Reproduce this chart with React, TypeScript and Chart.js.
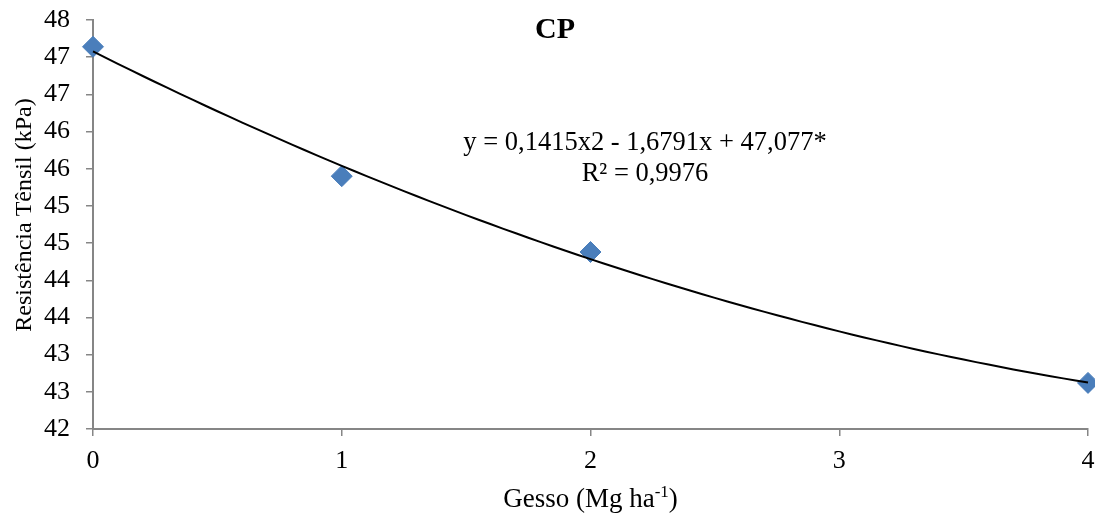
import React, { useEffect, useRef } from "react";
import { Chart, registerables } from "chart.js";

Chart.register(...registerables);

// Gypsum doses (Mg ha-1) and measured tensile strength (kPa)
const doses = [0, 1, 2, 4];
const resistencia = [47.14, 45.4, 44.38, 42.62];

// Quadratic trend: y = a·x² + b·x + c
const trendCoefs = { a: 0.1415, b: -1.6791, c: 47.077 };
const equationText = "y = 0,1415x2 - 1,6791x + 47,077*";
const r2Text = "R² = 0,9976";

const chartTitle = "CP";
const yTitle = "Resistência Tênsil (kPa)";
const xTitleMain = "Gesso (Mg ha";
const xTitleSup = "-1";
const xTitleEnd = ")";

const yMin = 42;
const yMax = 47.5;
const yStep = 0.5;
const xMin = 0;
const xMax = 4;
const xStep = 1;

const SERIF = "'Liberation Serif', 'Times New Roman', serif";
const AXIS_COLOR = "#868686";
const MARKER_COLOR = "#4A7EBB";

function trendPoints() {
  const pts: { x: number; y: number }[] = [];
  const n = 80;
  for (let i = 0; i <= n; i++) {
    const x = xMin + ((xMax - xMin) * i) / n;
    pts.push({ x, y: trendCoefs.a * x * x + trendCoefs.b * x + trendCoefs.c });
  }
  return pts;
}

const textOverlay = {
  id: "textOverlay",
  afterDraw(chart: any) {
    const { ctx, chartArea } = chart;
    ctx.save();
    ctx.fillStyle = "#000";
    ctx.textAlign = "center";
    ctx.textBaseline = "alphabetic";

    // Chart title
    ctx.font = `bold 30px ${SERIF}`;
    ctx.fillText(chartTitle, 555, 38);

    // Regression equation and R²
    ctx.font = `26.5px ${SERIF}`;
    ctx.fillText(equationText, 645, 150);
    ctx.fillText(r2Text, 645, 181);

    // Y axis title (rotated)
    ctx.save();
    ctx.translate(31, 215);
    ctx.rotate(-Math.PI / 2);
    ctx.textBaseline = "alphabetic";
    ctx.font = `24px ${SERIF}`;
    ctx.fillText(yTitle, 0, 0);
    ctx.restore();

    // X axis title with superscript
    const mainFont = `27px ${SERIF}`;
    const supFont = `17px ${SERIF}`;
    ctx.font = mainFont;
    const wMain = ctx.measureText(xTitleMain).width;
    const wEnd = ctx.measureText(xTitleEnd).width;
    ctx.font = supFont;
    const wSup = ctx.measureText(xTitleSup).width;
    const total = wMain + wSup + wEnd;
    const cx = (chartArea.left + chartArea.right) / 2;
    let x = cx - total / 2;
    const baseY = 507;
    ctx.textAlign = "left";
    ctx.font = mainFont;
    ctx.fillText(xTitleMain, x, baseY);
    x += wMain;
    ctx.font = supFont;
    ctx.fillText(xTitleSup, x, baseY - 10);
    x += wSup;
    ctx.font = mainFont;
    ctx.fillText(xTitleEnd, x, baseY);
    ctx.restore();
  },
};

function zeroPadding(scale: any) {
  scale.paddingTop = 0;
  scale.paddingBottom = 0;
  scale.paddingLeft = 0;
  scale.paddingRight = 0;
}

export default function App() {
  const canvasRef = useRef<HTMLCanvasElement | null>(null);

  useEffect(() => {
    if (!canvasRef.current) return;
    const chart = new Chart(canvasRef.current, {
      type: "scatter",
      data: {
        datasets: [
          {
            label: "Tendência",
            data: trendPoints(),
            showLine: true,
            borderColor: "#000",
            borderWidth: 2,
            pointRadius: 0,
            pointHoverRadius: 0,
            tension: 0,
            order: 0,
            clip: false,
          },
          {
            label: "Resistência",
            data: doses.map((d, i) => ({ x: d, y: resistencia[i] })),
            pointStyle: "rectRot",
            pointRadius: 10.5,
            backgroundColor: MARKER_COLOR,
            borderColor: MARKER_COLOR,
            borderWidth: 1,
            showLine: false,
            order: 1,
            clip: false,
          },
        ],
      },
      options: {
        animation: false,
        responsive: false,
        maintainAspectRatio: false,
        layout: { autoPadding: false, padding: { top: 20, right: 7, left: 0, bottom: 0 } },
        plugins: {
          legend: { display: false },
          tooltip: { enabled: false },
          title: { display: false },
        },
        scales: {
          x: {
            type: "linear",
            min: xMin,
            max: xMax,
            afterFit(scale: any) {
              scale.height = 85;
              zeroPadding(scale);
            },
            ticks: {
              stepSize: xStep,
              color: "#000",
              padding: 10,
              font: { family: SERIF, size: 26 },
            },
            grid: {
              drawOnChartArea: false,
              tickLength: 7,
              color: AXIS_COLOR,
              lineWidth: 1.5,
            },
            border: { display: true, color: AXIS_COLOR, width: 2 },
          },
          y: {
            type: "linear",
            min: yMin,
            max: yMax,
            afterFit(scale: any) {
              scale.width = 93;
              zeroPadding(scale);
            },
            ticks: {
              stepSize: yStep,
              color: "#000",
              padding: 16,
              font: { family: SERIF, size: 26 },
              callback: (v: any) => String(Math.round(Number(v))),
            },
            grid: {
              drawOnChartArea: false,
              tickLength: 7,
              color: AXIS_COLOR,
              lineWidth: 1.5,
            },
            border: { display: true, color: AXIS_COLOR, width: 2 },
          },
        },
      },
      plugins: [textOverlay],
    });
    return () => chart.destroy();
  }, []);

  return (
    <div style={{ position: "absolute", left: 0, top: 0, width: 1095, height: 514, background: "#fff" }}>
      <canvas ref={canvasRef} width={1095} height={514} style={{ display: "block" }} />
    </div>
  );
}
